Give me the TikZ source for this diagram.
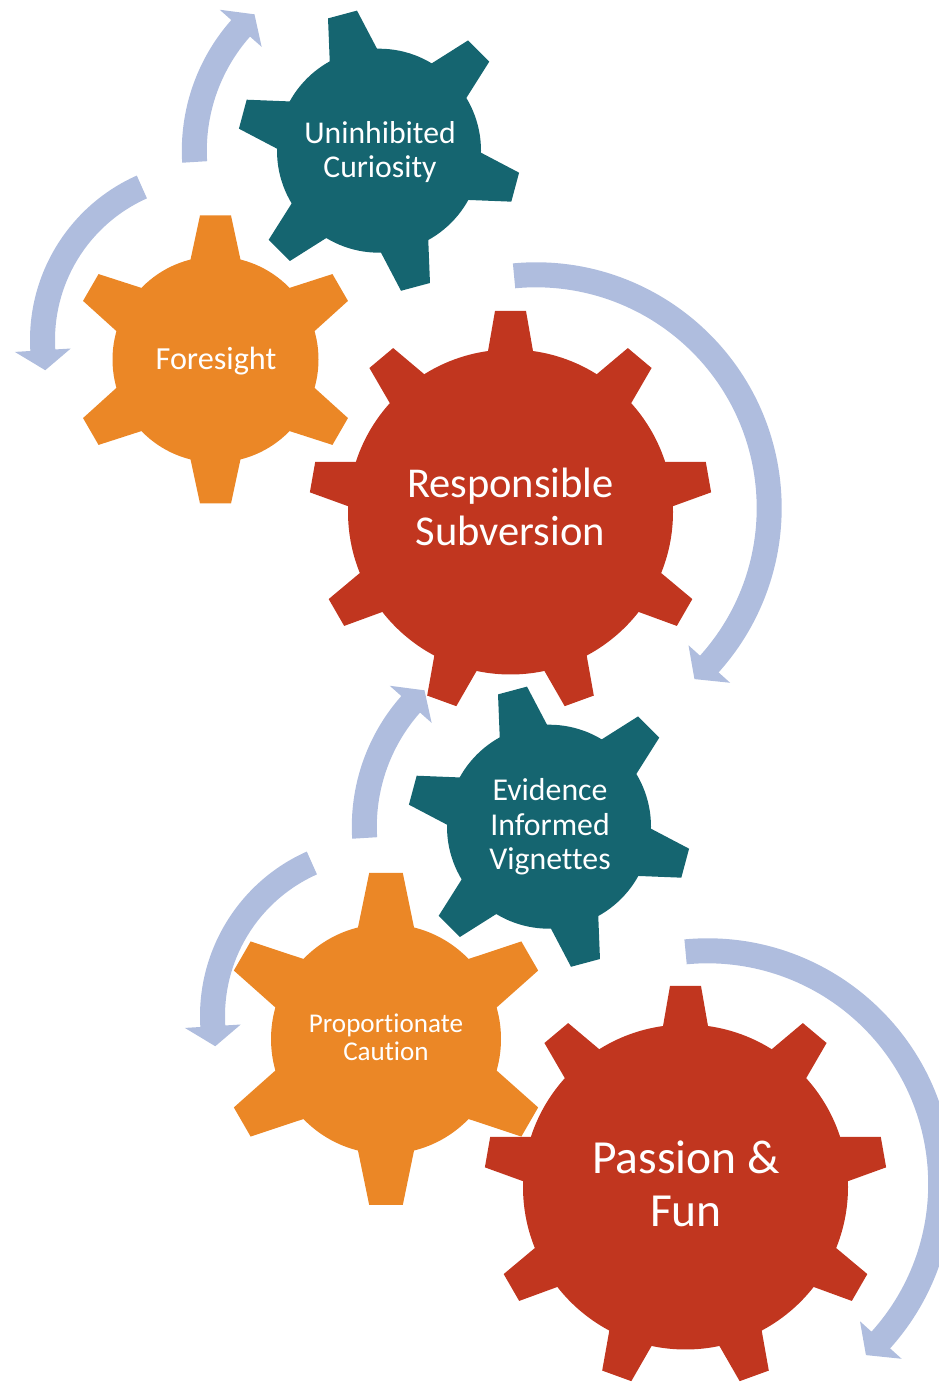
\documentclass[tikz,border=0pt]{standalone}
\usepackage{fontspec}
\setmainfont{Carlito}[Ligatures=NoCommon]
\definecolor{gteal}{RGB}{21,101,112}
\definecolor{gorange}{RGB}{235,135,38}
\definecolor{gred}{RGB}{193,54,31}
\definecolor{garrow}{RGB}{175,189,222}
\tikzset{
  geartext/.style={text=white, align=center, inner sep=0pt},
  arrowfill/.style={fill=garrow}
}
% #1 centre, #2 tooth angles, #3 body radius, #4 inner x, #5 inner half width, #6 tip radius, #7 tip half width, #8 colour
\newcommand{\drawgear}[8]{%
  \fill[#8] (#1) circle[radius=#3];
  \foreach \a in {#2} {
    \fill[#8, shift={(#1)}, rotate=\a] (#4,-#5) -- (#6,-#7) -- (#6,#7) -- (#4,#5) -- cycle;
  }
}
% #1 centre, #2 mid radius, #3 tail angle, #4 head base angle, #5 tip angle
\newcommand{\circarrow}[5]{%
  \fill[arrowfill, shift={(#1)}]
    ({#3}:{#2+12.5}) arc[start angle=#3, end angle=#4, radius=#2+12.5]
    -- ({#4}:{#2+28}) -- ({#5}:{#2}) -- ({#4}:{#2-28})
    -- ({#4}:{#2-12.5}) arc[start angle=#4, end angle=#3, radius=#2-12.5] -- cycle;
}
\begin{document}
\begin{tikzpicture}[x=1pt, y=1pt]
\useasboundingbox (0,0) rectangle (939,1382);
\clip (0,0) rectangle (939,1382);
% gear centres
\coordinate (g1) at (379,1231.3);
\coordinate (g2) at (215.5,1022.5);
\coordinate (g3) at (510.5,870);
\coordinate (g4) at (549,555.3);
\coordinate (g5) at (386,343);
\coordinate (g6) at (685.5,195);
% arrow centres
\coordinate (aA) at (379,1231.3);
\coordinate (aB) at (210,1042);
\coordinate (aC) at (536,874);
\coordinate (aD) at (549,555.3);
\coordinate (aE) at (380,366);
\coordinate (aF) at (707.5,198);
% gears
\drawgear{g1}{45,105,165,225,285,345}{102}{90}{26.5}{141}{15}{gteal}
\drawgear{g2}{30,90,150,210,270,330}{103}{90}{27.1}{144}{15.5}{gorange}
\drawgear{g3}{10,50,90,130,170,210,250,290,330}{162.5}{150}{24.4}{201}{15.5}{gred}
\drawgear{g4}{45,105,165,225,285,345}{102}{90}{26.5}{141}{15}{gteal}
\drawgear{g5}{30,90,150,210,270,330}{115}{100}{30.4}{166}{16.8}{gorange}
\drawgear{g6}{10,50,90,130,170,210,250,290,330}{162.5}{150}{24.4}{201}{15.5}{gred}
% arrows
\circarrow{aA}{184.7}{183.5}{138.5}{132.4}
\circarrow{aB}{167.5}{114}{183.5}{190.4}
\circarrow{aC}{233.2}{95.4}{-42}{-47.2}
\circarrow{aD}{184.7}{183.5}{138.5}{132.4}
\circarrow{aE}{167.5}{114}{183.5}{190.4}
\circarrow{aF}{233.2}{95.4}{-42}{-47.2}
% labels
\node[geartext, font=\fontsize{31.7}{34}\selectfont] (t1) at (380,1230) {Uninhibited\\Curiosity};
\node[geartext, font=\fontsize{32.2}{36}\selectfont] (t2) at (216,1021) {Foresight};
\node[geartext, font=\fontsize{42.5}{48}\selectfont] (t3) at (510.5,875.3) {Responsible\\Subversion};
\node[geartext, font=\fontsize{31.8}{34.4}\selectfont] (t4) at (550,555) {Evidence\\Informed\\Vignettes};
\node[geartext, font=\fontsize{27.1}{28.5}\selectfont] (t5) at (386,344.5) {Proportionate\\Caution};
\node[geartext, font=\fontsize{47.5}{53}\selectfont] (t6) at (686,198) {Passion \&\\Fun};
\end{tikzpicture}
\end{document}
